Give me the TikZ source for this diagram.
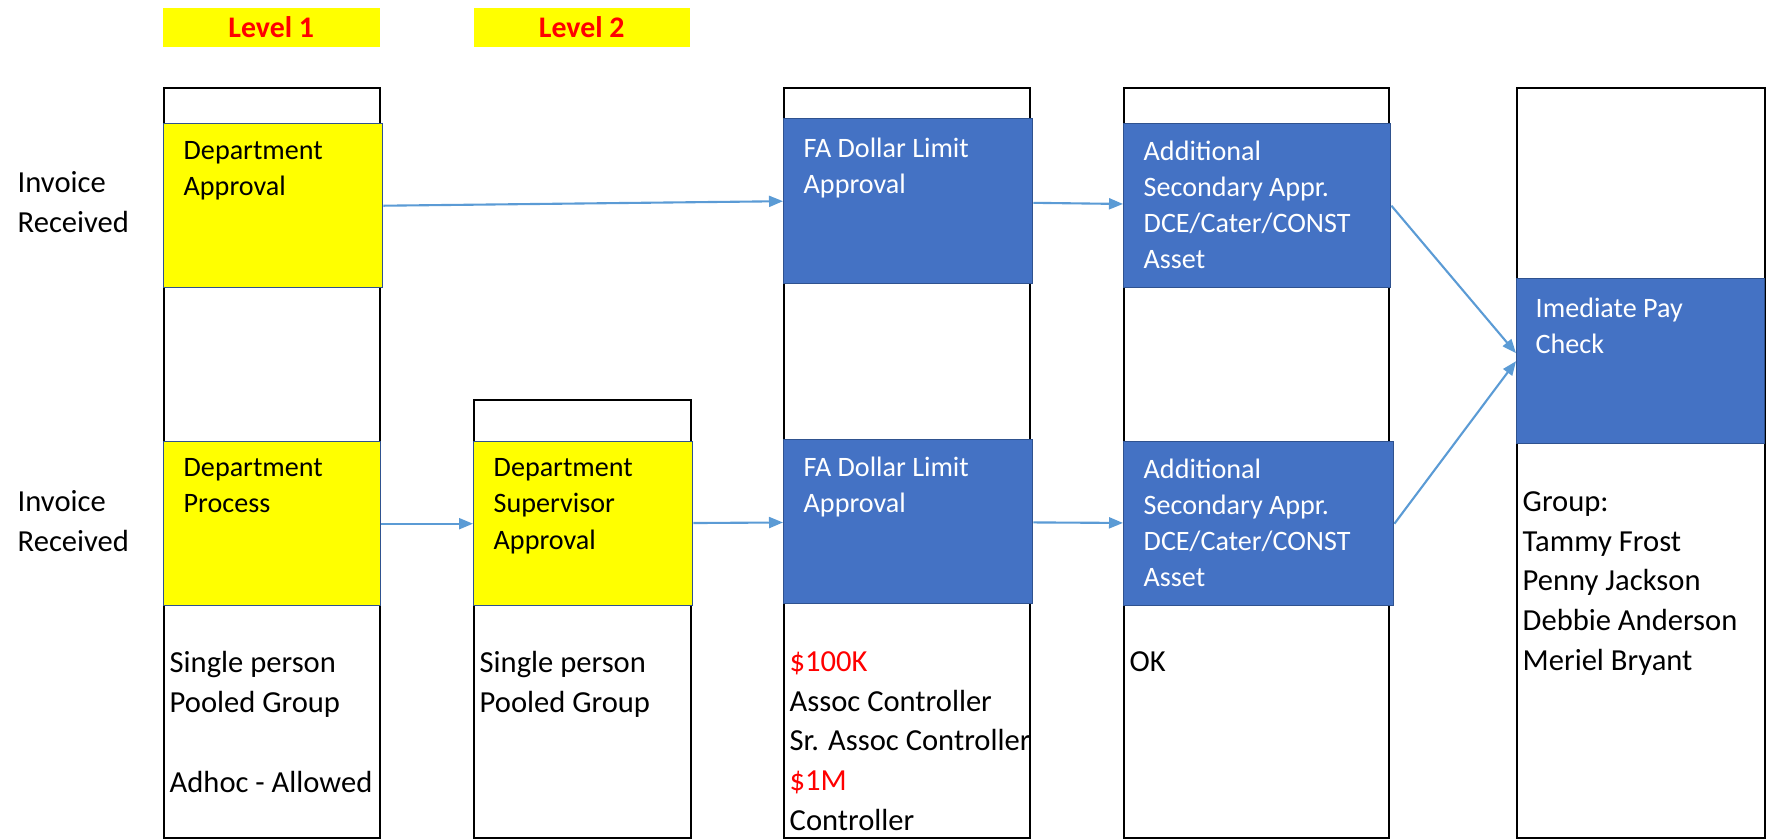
\documentclass[tikz,border=0pt]{standalone}
\usepackage{fontspec}
\setmainfont{Carlito}
\usetikzlibrary{arrows.meta}
\definecolor{stepyellow}{HTML}{FFFF00}
\definecolor{stepblue}{HTML}{4472C4}
\definecolor{stepedge}{HTML}{2F528F}
\definecolor{flowblue}{HTML}{5B9BD5}
\definecolor{limitred}{HTML}{FF0000}
\tikzset{
  lane/.style  ={draw=black,line width=0.6pt,anchor=north west,inner sep=0pt},
  ybox/.style  ={draw=stepedge,line width=0.4pt,fill=stepyellow,anchor=north west,inner sep=0pt},
  bbox/.style  ={draw=stepedge,line width=0.4pt,fill=stepblue,anchor=north west,inner sep=0pt},
  head/.style  ={fill=stepyellow,anchor=north west,inner sep=0pt,text=limitred,
                 font=\fontsize{8.5}{10}\selectfont\bfseries},
  txt/.style   ={anchor=north west,inner sep=0pt,align=left,
                 font=\fontsize{8.7}{11.3}\selectfont},
  boxtxt/.style={anchor=north west,inner sep=0pt,align=left,
                 font=\fontsize{8}{10.3}\selectfont},
  wtxt/.style  ={boxtxt,text=white},
  flow/.style  ={-{Triangle[length=1.4mm,width=1.1mm]},line width=0.6pt,draw=flowblue}
}

\begin{document}
\begin{tikzpicture}[x=0.1mm,y=-0.1mm]
  \useasboundingbox (0,0) rectangle (1782,839);

  % level headers
  \node[head,minimum width=21.7mm,minimum height=3.9mm] (lev1) at (162,7) {Level 1};
  \node[head,minimum width=21.6mm,minimum height=3.9mm] (lev2) at (473,7) {Level 2};

  % swim lanes
  \node[lane,minimum width=21.6mm,minimum height=75mm]   (lane1) at (163,87)  {};
  \node[lane,minimum width=21.7mm,minimum height=43.8mm] (lane2) at (473,399) {};
  \node[lane,minimum width=24.6mm,minimum height=75mm]   (lane3) at (783,87)  {};
  \node[lane,minimum width=26.5mm,minimum height=75mm]   (lane4) at (1123,87) {};
  \node[lane,minimum width=24.8mm,minimum height=75mm]   (lane5) at (1516,87) {};

  % steps
  \node[ybox,minimum width=21.9mm,minimum height=16.4mm] (da)  at (163,123)  {};
  \node[ybox,minimum width=21.7mm,minimum height=16.4mm] (dp)  at (163,441)  {};
  \node[ybox,minimum width=21.9mm,minimum height=16.4mm] (dsa) at (473,441)  {};
  \node[bbox,minimum width=24.9mm,minimum height=16.5mm] (fa1) at (783,118)  {};
  \node[bbox,minimum width=24.9mm,minimum height=16.4mm] (fa2) at (783,439)  {};
  \node[bbox,minimum width=26.7mm,minimum height=16.4mm] (as1) at (1123,123) {};
  \node[bbox,minimum width=27.0mm,minimum height=16.4mm] (as2) at (1123,441) {};
  \node[bbox,minimum width=24.8mm,minimum height=16.5mm] (pay) at (1516,278) {};

  \node[boxtxt] at ([shift={(20,18)}]da.north west)  {Department\\Approval};
  \node[boxtxt] at ([shift={(20,17)}]dp.north west)  {Department\\Process};
  \node[boxtxt] at ([shift={(20,17)}]dsa.north west) {Department\\Supervisor\\Approval};
  \node[wtxt]   at ([shift={(20,19)}]fa1.north west) {FA Dollar Limit\\Approval};
  \node[wtxt]   at ([shift={(20,17)}]fa2.north west) {FA Dollar Limit\\Approval};
  \node[wtxt]   at ([shift={(20,17)}]as1.north west) {Additional\\Secondary Appr.\\DCE/Cater/CONST\\Asset};
  \node[wtxt]   at ([shift={(20,17)}]as2.north west) {Additional\\Secondary Appr.\\DCE/Cater/CONST\\Asset};
  \node[wtxt]   at ([shift={(19,19)}]pay.north west) {Imediate Pay\\Check};

  % start labels
  \node[txt] (inv1) at (17,171) {Invoice\\Received};
  \node[txt] (inv2) at (17,490) {Invoice\\Received};

  % who can approve
  \node[txt] (who1) at (169,651)  {Single person\\Pooled Group\\[11.3pt]Adhoc - Allowed};
  \node[txt] (who2) at (479,651)  {Single person\\Pooled Group};
  \node[txt] (who3) at (789,651)  {\textcolor{limitred}{\$100K}\\Assoc Controller\\Sr. Assoc Controller\\
                                   \textcolor{limitred}{\$1M}\\Controller};
  \node[txt] (who4) at (1129,651) {OK};
  \node[txt] (who5) at (1522,491) {Group:\\Tammy Frost\\Penny Jackson\\Debbie Anderson\\Meriel Bryant};

  % approval flow
  \draw[flow] (da.east) -- (fa1.west);
  \draw[flow] (fa1) -- (as1);
  \draw[flow] (as1.east) -- ([yshift=0.8mm]pay.west);
  \draw[flow] (dp) -- (dsa);
  \draw[flow] (dsa) -- (fa2);
  \draw[flow] (fa2) -- (as2);
  \draw[flow] (as2.east) -- (pay.west);
\end{tikzpicture}
\end{document}
